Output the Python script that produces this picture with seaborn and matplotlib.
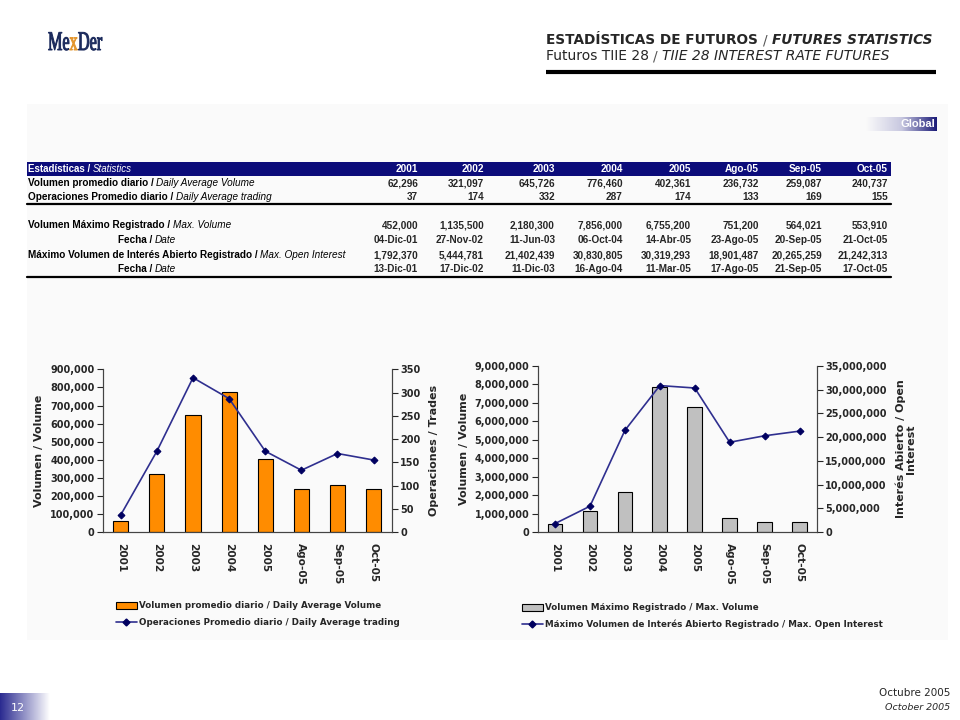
import numpy as np
import pandas as pd
import seaborn as sns
import matplotlib.pyplot as plt
from matplotlib.patches import Rectangle, Patch, PathPatch
from matplotlib.lines import Line2D
from matplotlib.colors import LinearSegmentedColormap
from matplotlib.ticker import FuncFormatter, MultipleLocator
from matplotlib.textpath import TextPath
from matplotlib.font_manager import FontProperties
from matplotlib.transforms import Affine2D

sns.set_style("white")
plt.rcParams['font.family'] = ['DejaVu Sans']

# ---- data ----
periods = ['2001', '2002', '2003', '2004', '2005', 'Ago-05', 'Sep-05', 'Oct-05']
avg_volume = [62296, 321097, 645726, 776460, 402361, 236732, 259087, 240737]
avg_trades = [37, 174, 332, 287, 174, 133, 169, 155]
max_volume = [452000, 1135500, 2180300, 7856000, 6755200, 751200, 564021, 553910]
max_volume_date = ['04-Dic-01', '27-Nov-02', '11-Jun-03', '06-Oct-04', '14-Abr-05',
                   '23-Ago-05', '20-Sep-05', '21-Oct-05']
max_open_interest = [1792370, 5444781, 21402439, 30830805, 30319293, 18901487,
                     20265259, 21242313]
max_oi_date = ['13-Dic-01', '17-Dic-02', '11-Dic-03', '16-Ago-04', '11-Mar-05',
               '17-Ago-05', '21-Sep-05', '17-Oct-05']

df = pd.DataFrame({'period': periods, 'avg_volume': avg_volume, 'avg_trades': avg_trades,
                   'max_volume': max_volume, 'max_oi': max_open_interest})

NAVY = '#0c0c7a'
ORANGE = '#ff8c00'
GREY = '#c0c0c0'
LINE = '#2f2f8f'
MARK = '#000060'

fig = plt.figure(figsize=(9.6, 7.2), dpi=100)

# background overlay in pixel coordinates
bg = fig.add_axes([0, 0, 1, 1])
bg.axis('off')
bg.add_patch(Rectangle((27, 104), 921, 536, facecolor='#fafafa', edgecolor='none', zorder=0))


def two_part(x, y, bold_txt, ital_txt, size=7, color='black', family='Liberation Sans', ha='left'):
    t1 = bg.text(x, y, bold_txt, fontsize=size, fontweight='bold', color=color,
                 family=family, va='center', ha=ha, zorder=3)
    bg.annotate(ital_txt, xy=(1, 0), xycoords=t1, va='bottom', ha='left', zorder=3,
                fontsize=size, fontstyle='italic', color=color, family=family)
    return t1


# logo (condensed serif lettering)
logo_font = FontProperties(family='Liberation Serif')
x_cursor = 48
for part, col in (('Me', '#1b2a5c'), ('x', '#e3962f'), ('Der', '#1b2a5c')):
    tp = TextPath((0, 0), part, size=1, prop=logo_font)
    w = tp.get_extents().x1
    path = Affine2D().scale(16.2, -27).translate(x_cursor, 50).transform_path(tp)
    bg.add_patch(PathPatch(path, facecolor=col, edgecolor=col, linewidth=0.7, zorder=3))
    x_cursor += w * 16.2 + 0.5

# title block
t = bg.text(546, 40, 'ESTADÍSTICAS DE FUTUROS ', fontsize=9.8, fontweight='bold', va='center')
t = bg.annotate('/ ', xy=(1, 0), xycoords=t, va='bottom', fontsize=9.8, color='#555555')
bg.annotate('FUTURES STATISTICS', xy=(1, 0), xycoords=t, va='bottom', fontsize=9.8,
            fontweight='bold', fontstyle='italic')
t = bg.text(546, 56, 'Futuros TIIE 28 ', fontsize=10, va='center')
t = bg.annotate('/ ', xy=(1, 0), xycoords=t, va='bottom', fontsize=10, color='#555555')
bg.annotate('TIIE 28 INTEREST RATE FUTURES', xy=(1, 0), xycoords=t, va='bottom',
            fontsize=10, fontstyle='italic')
bg.plot([546, 936], [72, 72], color='black', lw=3, solid_capstyle='butt')

# "Global" tag
grad = np.linspace(0, 1, 256).reshape(1, -1)
bg.imshow(grad, cmap=LinearSegmentedColormap.from_list('g', ['#fafafa', '#c8c8e0', '#1a1a78']),
          extent=[866, 937, 131, 117], aspect='auto', zorder=2)
bg.text(935, 124, 'Global', fontsize=8, fontweight='bold', color='white', ha='right',
        va='center', family='Liberation Sans', zorder=3)

# footer
bg.imshow(grad[:, ::-1], cmap=LinearSegmentedColormap.from_list('f', ['white', '#2a2a90']),
          extent=[0, 50, 720, 693], aspect='auto', zorder=2)
bg.text(18, 708, '12', fontsize=8, color='white', ha='center', va='center', zorder=3)
bg.text(950, 693, 'Octubre 2005', fontsize=7.5, ha='right', va='center')
bg.text(950, 708, 'October 2005', fontsize=6.8, ha='right', va='center', fontstyle='italic')

# ---- table ----
col_right = [418, 484, 555, 623, 691, 759, 822, 888]
bg.add_patch(Rectangle((27, 162), 864, 14, facecolor=NAVY, edgecolor='none', zorder=1))
two_part(28, 169, 'Estadísticas / ', 'Statistics', color='white')
for xr, p in zip(col_right, periods):
    bg.text(xr, 169, p, fontsize=7.2, fontweight='bold', color='white', ha='right',
            va='center', family='Liberation Sans', zorder=3)


def fmt(v):
    return f'{v:,}' if not isinstance(v, str) else v


rows = [
    (183, 'Volumen promedio diario / ', 'Daily Average Volume', avg_volume, 28),
    (197, 'Operaciones Promedio diario / ', 'Daily Average trading', avg_trades, 28),
    (225, 'Volumen Máximo Registrado / ', 'Max. Volume', max_volume, 28),
    (240, 'Fecha / ', 'Date', max_volume_date, 118),
    (255, 'Máximo Volumen de Interés Abierto Registrado / ', 'Max. Open Interest',
     max_open_interest, 28),
    (269, 'Fecha / ', 'Date', max_oi_date, 118),
]
for y, b, i, vals, x0 in rows:
    two_part(x0, y, b, i, size=7.2)
    for xr, v in zip(col_right, vals):
        bg.text(xr, y, fmt(v), fontsize=7.2, fontweight='bold', ha='right', va='center',
                family='Liberation Sans', zorder=3)
for y in (204, 277):
    bg.plot([27, 891], [y, y], color='black', lw=1.6)
bg.set_xlim(0, 960)
bg.set_ylim(720, 0)


# ---- charts ----
def style_axes(ax, ax2, fmt_func):
    ax.set_facecolor('none')
    for a in (ax, ax2):
        a.spines['top'].set_visible(False)
        for s in ('left', 'bottom', 'right'):
            a.spines[s].set_color('#444444')
            a.spines[s].set_linewidth(0.8)
        a.tick_params(axis='y', direction='out', length=4, width=0.8, labelsize=7, pad=2)
        a.yaxis.set_major_formatter(FuncFormatter(fmt_func))
        for lab in a.get_yticklabels():
            lab.set_fontweight('bold')
    ax.set_xlim(-0.5, len(periods) - 0.5)
    ax.set_xticks(range(len(periods)))
    ax.set_xticklabels(periods, rotation=270, fontsize=7.6, fontweight='bold')
    ax.set_xticks(np.arange(-0.5, len(periods)), minor=True)
    ax.tick_params(axis='x', which='major', length=0, pad=8)
    ax.tick_params(axis='x', which='minor', direction='out', length=4, width=0.8)
    ax.set_xlabel('')
    ax2.set_xlabel('')


comma = lambda v, p: f'{int(v):,}'
leg_kw = dict(loc='upper left', frameon=False, prop={'size': 6.3, 'weight': 'bold'},
              handlelength=2.4, handleheight=0.8, handletextpad=0.3, labelspacing=0.85,
              borderaxespad=0)

# left chart
ax1 = fig.add_axes([0.107, 0.261, 0.301, 0.226])
sns.barplot(data=df, x='period', y='avg_volume', color=ORANGE, edgecolor='black',
            linewidth=0.8, width=0.42, saturation=1, ax=ax1)
ax1b = ax1.twinx()
sns.lineplot(x=np.arange(len(periods)), y=df['avg_trades'], ax=ax1b, color=LINE, lw=1.2,
             marker='D', markersize=3.5, markerfacecolor=MARK, markeredgecolor=MARK)
ax1.set_ylim(0, 900000)
ax1.yaxis.set_major_locator(MultipleLocator(100000))
ax1b.set_ylim(0, 350)
ax1b.yaxis.set_major_locator(MultipleLocator(50))
style_axes(ax1, ax1b, comma)
ax1.set_ylabel('Volumen / Volume', fontsize=8, fontweight='bold', labelpad=4)
ax1b.set_ylabel('Operaciones / Trades', fontsize=8, fontweight='bold', labelpad=6)

h1 = [Patch(facecolor=ORANGE, edgecolor='black', linewidth=0.8),
      Line2D([], [], color=LINE, lw=1.2, marker='D', markersize=3.5,
             markerfacecolor=MARK, markeredgecolor=MARK)]
fig.legend(h1, ['Volumen promedio diario / Daily Average Volume',
                'Operaciones Promedio diario / Daily Average trading'],
           bbox_to_anchor=(112 / 960, 1 - 598 / 720), **leg_kw)

# right chart
ax2 = fig.add_axes([0.560, 0.261, 0.291, 0.231])
sns.barplot(data=df, x='period', y='max_volume', color=GREY, edgecolor='black',
            linewidth=0.8, width=0.42, saturation=1, ax=ax2)
ax2b = ax2.twinx()
sns.lineplot(x=np.arange(len(periods)), y=df['max_oi'], ax=ax2b, color=LINE, lw=1.2,
             marker='D', markersize=3.5, markerfacecolor=MARK, markeredgecolor=MARK)
ax2.set_ylim(0, 9000000)
ax2.yaxis.set_major_locator(MultipleLocator(1000000))
ax2b.set_ylim(0, 35000000)
ax2b.yaxis.set_major_locator(MultipleLocator(5000000))
style_axes(ax2, ax2b, comma)
ax2.set_ylabel('Volumen / Volume', fontsize=8, fontweight='bold', labelpad=4)
ax2b.set_ylabel('Interés Abierto / Open\nInterest', fontsize=8, fontweight='bold',
                labelpad=6, linespacing=1.0)

h2 = [Patch(facecolor=GREY, edgecolor='black', linewidth=0.8),
      Line2D([], [], color=LINE, lw=1.2, marker='D', markersize=3.5,
             markerfacecolor=MARK, markeredgecolor=MARK)]
fig.legend(h2, ['Volumen Máximo Registrado / Max. Volume',
                'Máximo Volumen de Interés Abierto Registrado / Max. Open Interest'],
           bbox_to_anchor=(518 / 960, 1 - 600 / 720), **leg_kw)

fig.savefig('out.png', dpi=100)
